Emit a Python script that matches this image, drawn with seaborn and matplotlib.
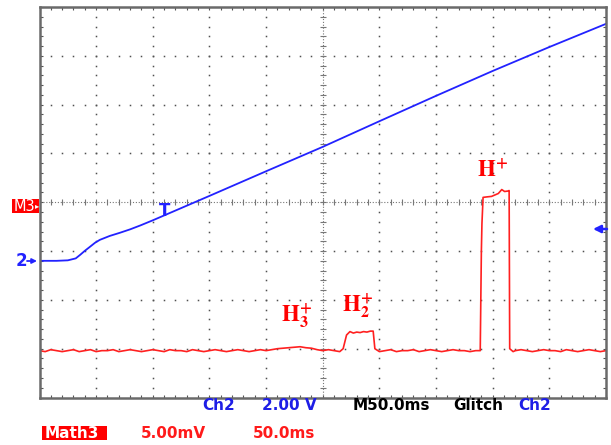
import numpy as np
import pandas as pd
import matplotlib
matplotlib.use("Agg")
import matplotlib.pyplot as plt
import matplotlib.patches as mpatches
from matplotlib.ticker import MultipleLocator
import seaborn as sns

ch2_time_ms = [-250, -235, -225, -218, -214, -210, -205.6, -201, -196.7, -188,
               -179, -170, -161, -150, -100, -50, 0, 50, 100, 150, 200, 250]
ch2_volts = [0.00, 0.00, 0.02, 0.10, 0.25, 0.41, 0.57, 0.74, 0.86, 1.02,
             1.15, 1.29, 1.45, 1.66, 2.66, 3.67, 4.67, 5.72, 6.76, 7.78, 8.76, 9.71]

math3_base_a_t = list(range(-250, -45, 5))
math3_base_a = [-15.2, -15.3, -15.1, -15.2, -15.3, -15.2, -15.1, -15.3, -15.2, -15.1,
                -15.3, -15.2, -15.2, -15.1, -15.3, -15.2, -15.1, -15.2, -15.3, -15.2,
                -15.1, -15.2, -15.3, -15.1, -15.2, -15.2, -15.3, -15.1, -15.2, -15.3,
                -15.2, -15.1, -15.2, -15.3, -15.2, -15.1, -15.2, -15.3, -15.2, -15.1, -15.2]
math3_h3_t = list(range(-45, 5, 5))
math3_h3 = [-15.1, -15.0, -14.95, -14.9, -14.85, -14.8, -14.9, -14.95, -15.1, -15.2]
math3_h2_t = [5, 10, 15, 18, 21, 24, 27, 30, 33, 36, 39, 42, 44.5, 46, 50]
math3_h2 = [-15.1, -15.2, -15.3, -15.0, -13.6, -13.25, -13.4, -13.3, -13.35, -13.25,
            -13.3, -13.2, -13.2, -15.0, -15.3]
math3_base_d_t = list(range(55, 140, 5))
math3_base_d = [-15.2, -15.1, -15.3, -15.2, -15.2, -15.1, -15.3, -15.2, -15.1, -15.2,
                -15.3, -15.2, -15.1, -15.2, -15.2, -15.3, -15.2]
math3_h1_t = [139, 140, 140.5, 141.5, 145, 149, 152, 155, 158, 160.5, 163.5, 164.5, 165, 168]
math3_h1 = [-15.2, -5.0, -2.2, 0.5, 0.55, 0.6, 0.75, 0.9, 1.3, 1.1, 1.15, 1.2, -15.0, -15.3]
math3_base_e_t = list(range(170, 255, 5))
math3_base_e = [-15.2, -15.1, -15.2, -15.3, -15.2, -15.1, -15.2, -15.2, -15.3, -15.1,
                -15.2, -15.3, -15.2, -15.1, -15.2, -15.3, -15.2]

ion_labels = [r"$\mathbf{H}_{\mathbf{3}}^{\mathbf{+}}$",
              r"$\mathbf{H}_{\mathbf{2}}^{\mathbf{+}}$",
              r"$\mathbf{H}^{\mathbf{+}}$"]
readout_row1 = ["Ch2", "2.00 V", "M50.0ms", "Glitch", "Ch2"]
readout_row2 = ["Math3", "5.00mV", "50.0ms"]

# scope settings
time_per_div_ms = 50.0
ch2_volts_per_div = 2.0
ch2_ground_div = -1.2
math3_mv_per_div = 5.0
math3_ref_div = 0.0

# ---------------- layout ----------------
W, H = 611, 445
BLUE = "#2222ff"
RED = "#ff2020"
TXT_BLUE = "#1e1ee6"
GRID = "#505050"

sns.set_style("white")
plt.rcParams["mathtext.fontset"] = "stix"

fig = plt.figure(figsize=(W / 100, H / 100), dpi=100)
fig.patch.set_facecolor("white")


def fx(x):
    return x / W


def fy(y):
    return 1 - y / H


left, right, top, bottom = 39.5, 606, 7, 397.5
ax = fig.add_axes([fx(left), fy(bottom), (right - left) / W, (bottom - top) / H])
ax.set_xlim(-5 * time_per_div_ms, 5 * time_per_div_ms)
ax.set_ylim(-4, 4)

# graticule dots
ys = np.arange(-4, 4.001, 0.2)
ts = np.arange(-250, 250.01, 10)
for k in [-4, -3, -2, -1, 1, 2, 3, 4]:
    ax.plot(np.full_like(ys, k * time_per_div_ms), ys, ls="none", marker="s",
            ms=1.1, color=GRID, mew=0)
for k in [-3, -2, -1, 1, 2, 3]:
    ax.plot(ts, np.full_like(ts, k), ls="none", marker="s", ms=1.1, color=GRID, mew=0)
# center cross
ax.plot([0, 0], [-4, 4], ls=(0, (1, 1.6)), color="#777777", lw=0.8)
ax.plot([-250, 250], [0, 0], ls=(0, (1, 1.6)), color="#777777", lw=0.8)
ax.plot(np.zeros_like(ys), ys, ls="none", marker="_", ms=5, mew=0.8, color="#777777")
ax.plot(ts, np.zeros_like(ts), ls="none", marker="|", ms=5, mew=0.8, color="#777777")

# traces
blue_df = pd.DataFrame({"t": ch2_time_ms,
                        "div": np.array(ch2_volts) / ch2_volts_per_div + ch2_ground_div})
red_t = math3_base_a_t + math3_h3_t + math3_h2_t + math3_base_d_t + math3_h1_t + math3_base_e_t
red_v = math3_base_a + math3_h3 + math3_h2 + math3_base_d + math3_h1 + math3_base_e
red_df = pd.DataFrame({"t": red_t,
                       "div": np.array(red_v) / math3_mv_per_div + math3_ref_div})

sns.lineplot(data=red_df, x="t", y="div", ax=ax, color=RED, lw=1.2,
             sort=False, estimator=None)
sns.lineplot(data=blue_df, x="t", y="div", ax=ax, color=BLUE, lw=1.3,
             sort=False, estimator=None)
ax.set_xlabel("")
ax.set_ylabel("")

# frame and border ticks
for s in ax.spines.values():
    s.set_color("#6a6a6a")
    s.set_linewidth(1.8)
ax.xaxis.set_major_locator(MultipleLocator(time_per_div_ms))
ax.xaxis.set_minor_locator(MultipleLocator(time_per_div_ms / 5))
ax.yaxis.set_major_locator(MultipleLocator(1))
ax.yaxis.set_minor_locator(MultipleLocator(0.2))
ax.tick_params(which="both", direction="in", length=2.5, width=0.8, color="#555555",
               top=True, right=True, bottom=True, left=True,
               labelbottom=False, labelleft=False)

# trigger marker "T" on the trace
fig.text(fx(164.5), fy(216), "T", color=BLUE, fontsize=12, fontweight="bold",
         ha="center", va="baseline", family="DejaVu Sans")

# ion labels
for lab, (x, y) in zip(ion_labels, [(281, 322), (342, 312), (477, 176)]):
    fig.text(fx(x), fy(y), lab, color="#ff0000", fontsize=16.5, ha="left", va="baseline")

# left markers
fig.patches.append(mpatches.Rectangle((fx(12), fy(213)), (39 - 12) / W, 14 / H,
                                      transform=fig.transFigure, fc="#ff0000",
                                      ec="none", figure=fig))
fig.text(fx(13.5), fy(211), "M3", color="white", fontsize=10.5, ha="left",
         va="baseline", family="DejaVu Sans")
fig.text(fx(35), fy(206), "\u25b8", color="white", fontsize=6, ha="left", va="center")
fig.text(fx(16), fy(266.5), "2", color=BLUE, fontsize=12, fontweight="bold",
         ha="left", va="baseline", family="DejaVu Sans")
ax.annotate("", xy=(fx(37), fy(261)), xytext=(fx(27), fy(261)),
            xycoords="figure fraction", textcoords="figure fraction",
            annotation_clip=False,
            arrowprops=dict(arrowstyle="-|>", color=BLUE, lw=1.3, mutation_scale=7,
                            shrinkA=0, shrinkB=0))
# right trigger-level arrow
ax.annotate("", xy=(fx(593), fy(229)), xytext=(fx(607), fy(229)),
            xycoords="figure fraction", textcoords="figure fraction",
            annotation_clip=False,
            arrowprops=dict(arrowstyle="-|>", color=BLUE, lw=1.8, mutation_scale=11,
                            shrinkA=0, shrinkB=0))

# readouts
row1_x = [202.5, 261.5, 353, 453, 518]
row1_c = [TXT_BLUE, TXT_BLUE, "black", "black", TXT_BLUE]
for s, x, c in zip(readout_row1, row1_x, row1_c):
    fig.text(fx(x), fy(410.5), s, color=c, fontsize=11, fontweight="bold",
             ha="left", va="baseline", family="DejaVu Sans")

fig.patches.append(mpatches.Rectangle((fx(42), fy(440)), (107 - 42) / W, 14 / H,
                                      transform=fig.transFigure, fc="#ff0000",
                                      ec="none", figure=fig))
row2_x = [45, 141, 252.5]
row2_c = ["white", "#ff1a1a", "#ff1a1a"]
for s, x, c in zip(readout_row2, row2_x, row2_c):
    fig.text(fx(x), fy(438.5), s, color=c, fontsize=11, fontweight="bold",
             ha="left", va="baseline", family="DejaVu Sans")

fig.savefig("out.png", dpi=100, facecolor="white")
